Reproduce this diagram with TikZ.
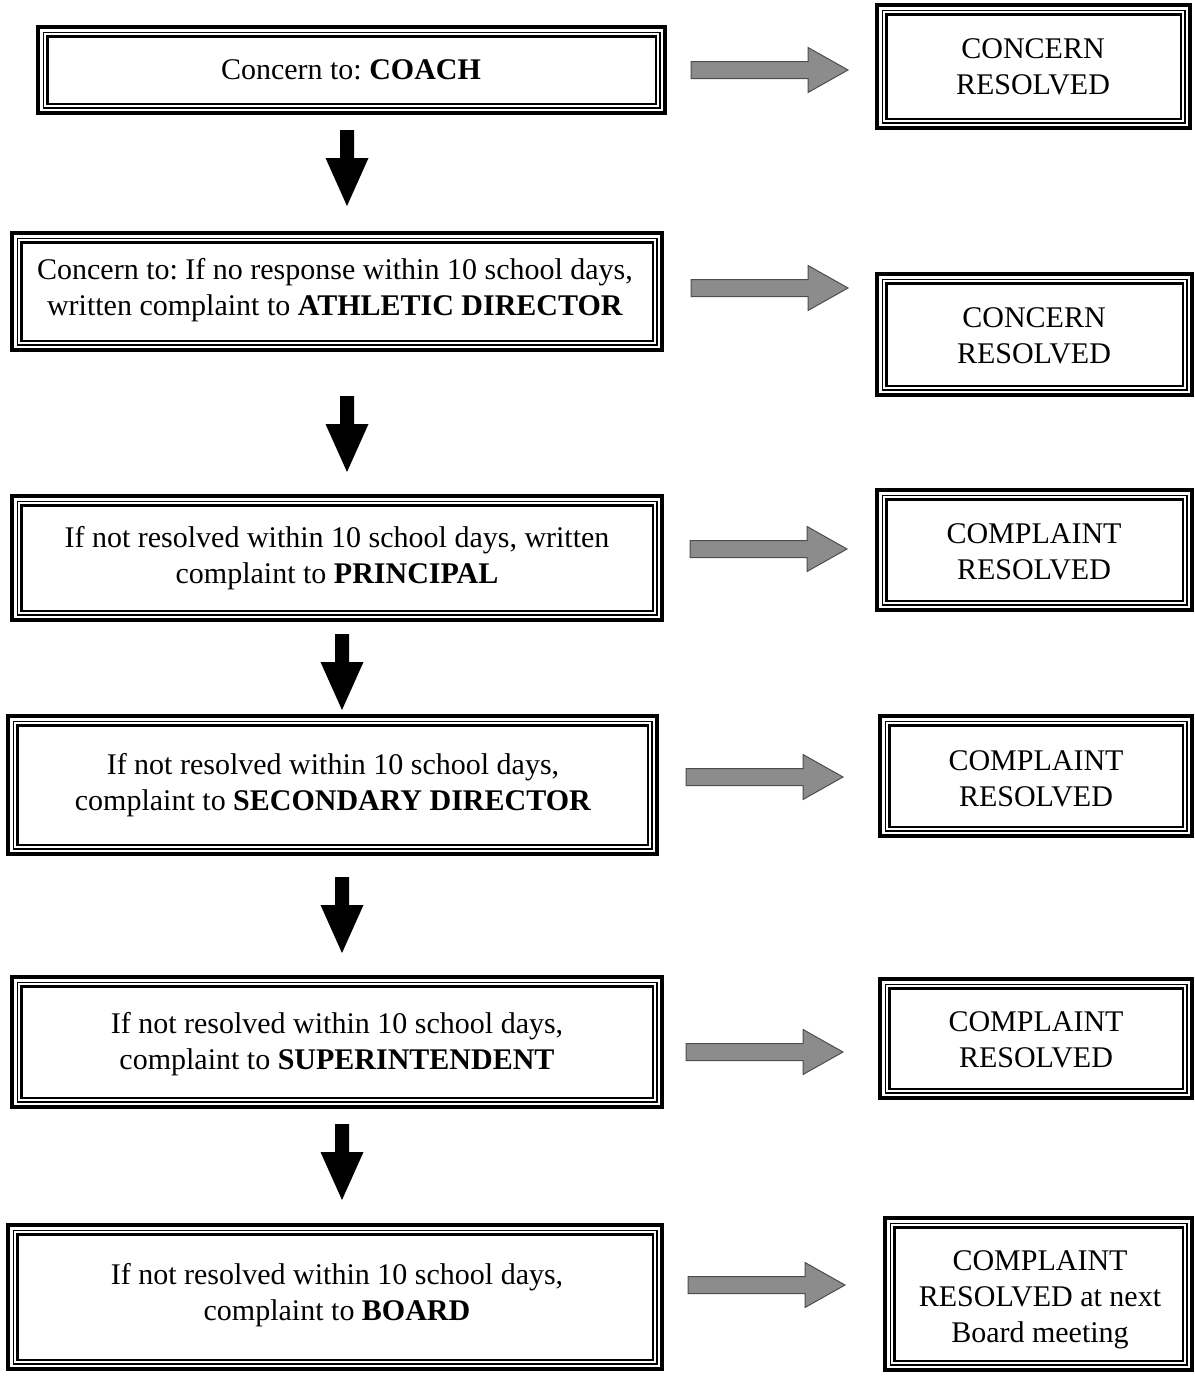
\documentclass[tikz,border=0pt]{standalone}
\usepackage{fontspec}
\setmainfont{Liberation Serif}
\frenchspacing

\definecolor{arrowgray}{HTML}{8C8C8C}
\definecolor{arrowedge}{HTML}{4D4D4D}

\tikzset{
  boxtext/.style={align=center, inner sep=0pt, font=\fontsize{15pt}{18pt}\selectfont},
  grayblock/.style={fill=arrowgray, draw=arrowedge, line width=0.5pt, line join=miter},
}

% three-line frame between two outer corners
\newcommand{\tribox}[2]{%
  \draw[line width=2pt] (#1) rectangle (#2);
  \draw[line width=0.7pt] ([shift={(2.6pt,-2.6pt)}]#1) rectangle ([shift={(-2.6pt,2.6pt)}]#2);
  \draw[line width=1.3pt] ([shift={(4.6pt,-4.6pt)}]#1) rectangle ([shift={(-4.6pt,4.6pt)}]#2);
}
% black arrow pointing down, given its top centre
\newcommand{\downblock}[1]{%
  \fill[shift={(#1)}] (-7,0) -- (-7,28) -- (-21.5,28) -- (0,76) -- (21.5,28) -- (7,28) -- (7,0) -- cycle;
}
% grey arrow pointing right, given its left end
\newcommand{\rightblock}[1]{%
  \draw[grayblock,shift={(#1)}] (0,-8.5) -- (117,-8.5) -- (117,-22.5) -- (157,0) -- (117,22.5) -- (117,8.5) -- (0,8.5) -- cycle;
}

\begin{document}
\begin{tikzpicture}[x=0.5pt,y=-0.5pt]
    \useasboundingbox (0,0) rectangle (1194,1376);

    % Steps
    \tribox{38,27}{665,113}
    \node[boxtext] (coach) at (351,70) {Concern to: \textbf{COACH}};

    \tribox{12,233}{662,350}
    \node[boxtext] (athletic) at (335,290)
        {Concern to: If no response within 10 school days,\\written complaint to \textbf{ATHLETIC DIRECTOR}};

    \tribox{12,496}{662,620}
    \node[boxtext] (principal) at (337,558)
        {If not resolved within 10 school days, written\\complaint to \textbf{PRINCIPAL}};

    \tribox{8,716}{657,854}
    \node[boxtext] (secondary) at (333,785)
        {If not resolved within 10 school days,\\complaint to \textbf{SECONDARY DIRECTOR}};

    \tribox{12,977}{662,1107}
    \node[boxtext] (superint) at (337,1044)
        {If not resolved within 10 school days,\\complaint to \textbf{SUPERINTENDENT}};

    \tribox{8,1225}{662,1369}
    \node[boxtext] (board) at (337,1295)
        {If not resolved within 10 school days,\\complaint to \textbf{BOARD}};

    % Outcomes
    \tribox{877,5}{1190,128}
    \node[boxtext] (res1) at (1033,67) {CONCERN\\RESOLVED};

    \tribox{877,274}{1192,395}
    \node[boxtext] (res2) at (1034,336) {CONCERN\\RESOLVED};

    \tribox{877,490}{1192,610}
    \node[boxtext] (res3) at (1034,552) {COMPLAINT\\RESOLVED};

    \tribox{880,716}{1192,836}
    \node[boxtext] (res4) at (1036,779) {COMPLAINT\\RESOLVED};

    \tribox{880,979}{1192,1098}
    \node[boxtext] (res5) at (1036,1040) {COMPLAINT\\RESOLVED};

    \tribox{885,1218}{1192,1370}
    \node[boxtext] (res6) at (1040,1300) {COMPLAINT\\RESOLVED at next\\Board meeting};

    % Down arrows
    \downblock{347,130}
    \downblock{347,396}
    \downblock{342,634}
    \downblock{342,877}
    \downblock{342,1124}

    % Right arrows
    \rightblock{691,70}
    \rightblock{691,288}
    \rightblock{690,549}
    \rightblock{686,777}
    \rightblock{686,1052}
    \rightblock{688,1285}
\end{tikzpicture}
\end{document}
